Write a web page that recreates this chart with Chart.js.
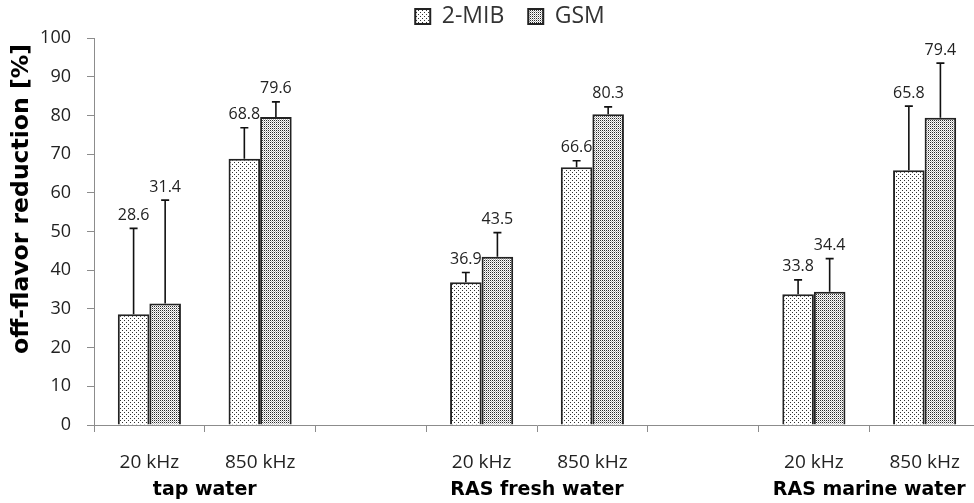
<!DOCTYPE html>
<html>
<head>
<meta charset="utf-8">
<script src="https://cdn.jsdelivr.net/npm/chart.js@4.4.1/dist/chart.umd.min.js"></script>
<style>
  html, body { margin: 0; padding: 0; background: #fff; overflow: hidden; }
  #wrap { position: relative; width: 980px; height: 503px; }
</style>
</head>
<body>
<div id="wrap"><canvas id="c" width="980" height="503"></canvas></div>
<script>
// ---- data ----
const categories = ['20 kHz', '850 kHz', '', '20 kHz', '850 kHz', '', '20 kHz', '850 kHz'];
const groupLabels = ['tap water', 'RAS fresh water', 'RAS marine water'];
const groupStartIndex = [0, 3, 6];
const seriesNames = ['2-MIB', 'GSM'];
const mibValues = [28.6, 68.8, null, 36.9, 66.6, null, 33.8, 65.8];
const gsmValues = [31.4, 79.6, null, 43.5, 80.3, null, 34.4, 79.4];
const mibErrors = [22.2, 8.0, null, 2.5, 1.7, null, 3.7, 16.6];
const gsmErrors = [26.7, 3.9, null, 6.2, 1.9, null, 8.6, 14.1];
const yTicks = [0, 10, 20, 30, 40, 50, 60, 70, 80, 90, 100];
const yTitle = 'off-flavor reduction [%]';

// ---- patterns ----
function makePattern(size, dots) {
  const c = document.createElement('canvas');
  c.width = size; c.height = size;
  const g = c.getContext('2d');
  g.fillStyle = '#ffffff';
  g.fillRect(0, 0, size, size);
  dots.forEach(d => { g.fillStyle = d[2]; g.fillRect(d[0], d[1], 1, 1); });
  return g.createPattern(c, 'repeat');
}
const ctx = document.getElementById('c').getContext('2d');
const patMib = makePattern(4, [[0, 0, '#333'], [2, 2, '#333']]);
const patGsm = makePattern(2, [[0, 0, '#2a2a2a'], [1, 1, '#b4b4b4']]);

const errorsBySeries = [mibErrors, gsmErrors];
const axisColor = '#8c8c8c';
const textColor = '#222222';

const overlay = {
  id: 'overlay',
  afterDatasetsDraw(chart) {
    const c = chart.ctx;
    const ys = chart.scales.y;
    c.save();
    chart.data.datasets.forEach((ds, di) => {
      const meta = chart.getDatasetMeta(di);
      meta.data.forEach((el, i) => {
        const v = ds.data[i];
        if (v === null || v === undefined) return;
        const err = errorsBySeries[di][i];
        const yTop = ys.getPixelForValue(v + err);
        c.strokeStyle = '#111';
        c.lineWidth = 1.6;
        c.beginPath();
        c.moveTo(el.x, el.y);
        c.lineTo(el.x, yTop);
        c.moveTo(el.x - 4, yTop);
        c.lineTo(el.x + 4, yTop);
        c.stroke();
        c.fillStyle = textColor;
        c.font = '16px "Open Sans"';
        c.textAlign = 'center';
        c.textBaseline = 'middle';
        c.fillText(v.toFixed(1), el.x, yTop - 13);
      });
    });
    // group labels
    const xs = chart.scales.x;
    c.fillStyle = '#000';
    c.font = 'bold 19px "DejaVu Sans"';
    c.textAlign = 'center';
    c.textBaseline = 'middle';
    groupLabels.forEach((g, k) => {
      const i = groupStartIndex[k];
      const x = (xs.getPixelForValue(i) + xs.getPixelForValue(i + 1)) / 2;
      c.fillText(g, x, 490);
    });
    // y title
    c.translate(22, 199);
    c.rotate(-Math.PI / 2);
    c.font = 'bold 23.5px "DejaVu Sans"';
    c.fillText(yTitle, 0, 0);
    c.restore();
  }
};

new Chart(ctx, {
  type: 'bar',
  data: {
    labels: categories,
    datasets: [
      { label: seriesNames[0], data: mibValues, backgroundColor: patMib, borderColor: '#222', borderWidth: 2 },
      { label: seriesNames[1], data: gsmValues, backgroundColor: patGsm, borderColor: '#222', borderWidth: 2 }
    ]
  },
  plugins: [overlay],
  options: {
    responsive: false,
    animation: false,
    devicePixelRatio: 1,
    categoryPercentage: 0.57,
    barPercentage: 1.0,
    layout: { padding: { left: 40, right: 0, top: -19, bottom: 0 } },
    plugins: {
      tooltip: { enabled: false },
      legend: {
        position: 'top',
        align: 'center',
        labels: {
          font: { family: '"Open Sans"', size: 23 },
          color: '#333',
          boxWidth: 15,
          boxHeight: 15,
          padding: 24
        }
      }
    },
    scales: {
      x: {
        offset: true,
        grid: { display: true, offset: true, drawOnChartArea: false, drawTicks: true, tickLength: 7, color: axisColor },
        border: { display: true, color: axisColor, width: 1 },
        ticks: { color: textColor, font: { family: '"Open Sans"', size: 19 }, padding: 19, maxRotation: 0, autoSkip: false },
        afterFit(s) { s.height = 78; }
      },
      y: {
        min: 0, max: 100,
        afterBuildTicks(s) { s.ticks = yTicks.map(v => ({ value: v })); },
        grid: { display: true, drawOnChartArea: false, drawTicks: true, tickLength: 7, color: axisColor },
        border: { display: true, color: axisColor, width: 1 },
        ticks: { color: textColor, font: { family: '"Open Sans"', size: 18 }, padding: 16 },
        afterFit(s) { s.width = 54; }
      }
    }
  }
});
</script>
</body>
</html>
